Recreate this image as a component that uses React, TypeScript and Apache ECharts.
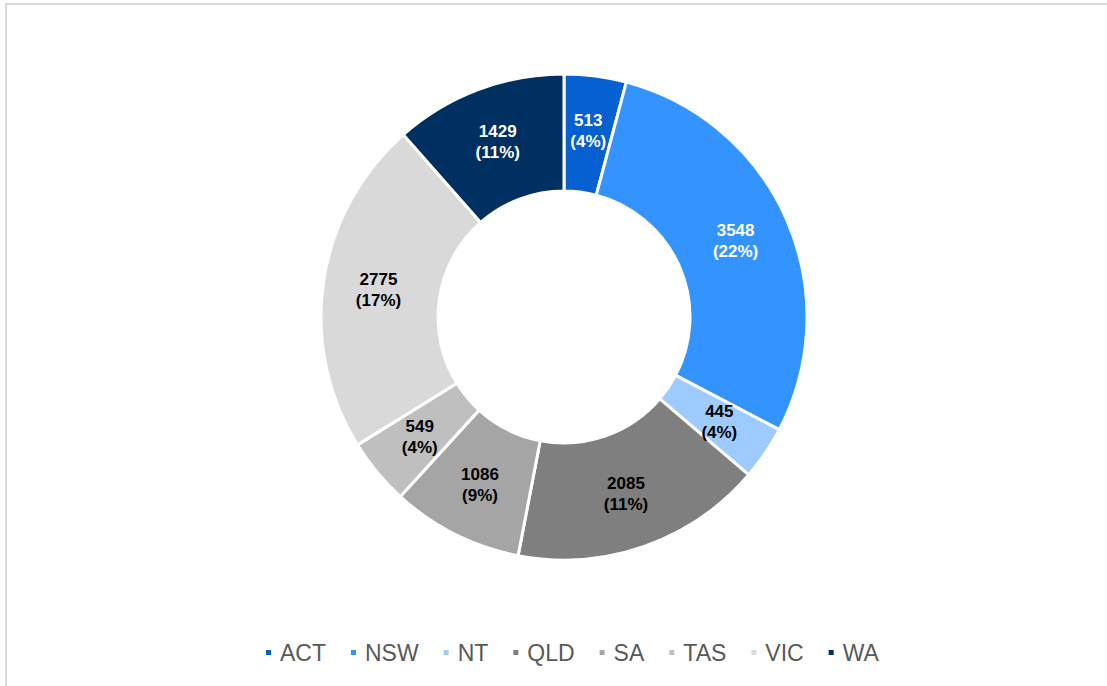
import React, { useEffect, useRef } from "react";
import * as echarts from "echarts";

const categories = ["ACT", "NSW", "NT", "QLD", "SA", "TAS", "VIC", "WA"];
const values = [513, 3548, 445, 2085, 1086, 549, 2775, 1429];
const pctLabels = [4, 22, 4, 11, 9, 4, 17, 11];
const colors = ["#0660cf", "#3393ff", "#9ecbff", "#7f7f7f", "#a5a5a5", "#bfbfbf", "#d9d9d9", "#002f62"];
const labelColors = ["#ffffff", "#ffffff", "#000000", "#000000", "#000000", "#000000", "#000000", "#ffffff"];

export default function App() {
  const ref = useRef<HTMLDivElement>(null);
  useEffect(() => {
    if (!ref.current) return;
    const chart = echarts.init(ref.current, null, { renderer: "svg" });
    chart.setOption({
      animation: false,
      backgroundColor: "#ffffff",
      color: colors,
      graphic: [
        {
          type: "rect",
          shape: { x: 6, y: 4, width: 1120, height: 720 },
          style: { fill: "none", stroke: "#d9d9d9", lineWidth: 2 },
          silent: true,
        },
      ],
      legend: {
        data: categories,
        left: 259,
        top: 636,
        icon: "rect",
        itemWidth: 7,
        itemHeight: 7,
        itemGap: 23,
        textStyle: {
          fontFamily: "Liberation Sans, Arial, sans-serif",
          fontSize: 23,
          color: "#595959",
          padding: [0, 0, 0, 3],
        },
      },
      series: [
        {
          type: "pie",
          center: [564, 317],
          radius: [126, 243],
          startAngle: 90,
          clockwise: true,
          avoidLabelOverlap: false,
          itemStyle: { borderColor: "#ffffff", borderWidth: 3 },
          label: {
            show: true,
            position: "inside",
            fontFamily: "Liberation Sans, Arial, sans-serif",
            fontSize: 17,
            fontWeight: "bold",
            lineHeight: 21,
            formatter: (p: any) => `${p.value}\n(${pctLabels[p.dataIndex]}%)`,
          },
          labelLine: { show: false },
          emphasis: { disabled: true },
          data: categories.map((c, i) => ({
            name: c,
            value: values[i],
            label: { color: labelColors[i] },
          })),
        },
      ],
    });
    return () => chart.dispose();
  }, []);
  return (
    <div
      ref={ref}
      style={{ position: "absolute", left: 0, top: 0, width: 1107, height: 686 }}
    />
  );
}
